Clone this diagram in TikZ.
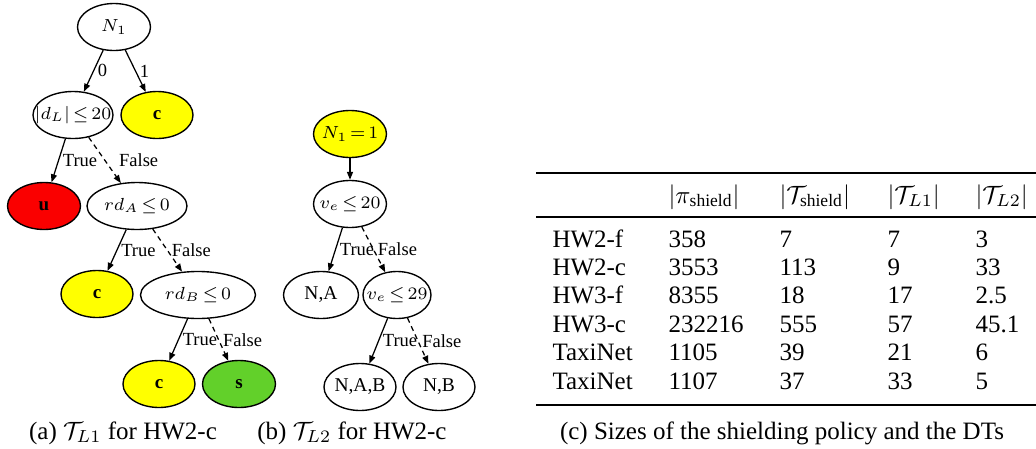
\documentclass[tikz,border=0pt]{standalone}
\usepackage{fontspec}
\setmainfont{Liberation Serif}
\usepackage{amsmath,amssymb}
\usepackage{xcolor}
\usepackage{tikz}
\usetikzlibrary{arrows.meta,shapes.geometric}

\definecolor{leafyellow}{RGB}{255,255,0}
\definecolor{leafred}{RGB}{250,0,0}
\definecolor{leafgreen}{RGB}{98,208,42}

% zero-width text so the ellipse keeps its given size
\newcommand{\nolap}[1]{\makebox[0pt]{#1}}
% tighter space around relations inside the trees
\newcommand{\tightrel}{\thickmuskip=2.5mu\relax}

\tikzset{
  dtnode/.style={draw, ellipse, inner sep=0pt, minimum height=18.8pt,
    line width=0.55pt, font=\fontsize{7.4}{9}\selectfont\tightrel},
  leaf/.style={dtnode, font=\fontsize{7.8}{9}\selectfont},
  colleaf/.style={dtnode, font=\fontsize{7.6}{9}\selectfont\bfseries},
  yes/.style={-{Triangle[length=3.2pt,width=2.4pt]}, line width=0.5pt},
  no/.style={yes, dash pattern=on 2pt off 1.6pt},
  edgelbl/.style={right, inner sep=1.5pt, font=\fontsize{7.4}{9}\selectfont},
  cell/.style={anchor=base west, inner sep=0pt},
  caption/.style={anchor=base, inner sep=0pt}
}

\begin{document}
\begin{tikzpicture}[x=0.4pt, y=-0.4pt]
  \useasboundingbox (0,0) rectangle (1036,448);

  % (a) tree for HW2-c
  \node[dtnode, minimum width=29.2pt] (n1) at (114,27) {\nolap{$N_1$}};
  \node[dtnode, minimum width=32pt] (dl) at (73,115) {\nolap{$|d_L|\le 20$}};
  \node[colleaf, fill=leafyellow, minimum width=28.8pt] (ca) at (157,115) {c};
  \node[colleaf, fill=leafred, minimum width=29.2pt] (ua) at (44,206) {u};
  \node[dtnode, minimum width=40pt] (rda) at (137,206) {\nolap{$rd_A\le 0$}};
  \node[colleaf, fill=leafyellow, minimum width=28.8pt] (cb) at (97,294) {c};
  \node[dtnode, minimum width=46pt] (rdb) at (198,295) {\nolap{$rd_B\le 0$}};
  \node[colleaf, fill=leafyellow, minimum width=28.8pt] (cc) at (159,384) {c};
  \node[colleaf, fill=leafgreen, minimum width=29.2pt] (sa) at (239,384) {s};

  \draw[yes] (n1) -- node[edgelbl] (l0) {0} (dl);
  \draw[yes] (n1) -- node[edgelbl] (l1) {1} (ca);
  \draw[yes] (dl) -- node[edgelbl] (lta) {True} (ua);
  \draw[no] (dl) -- node[edgelbl, xshift=4pt] (lfa) {False} (rda);
  \draw[yes] (rda) -- node[edgelbl] (ltb) {True} (cb);
  \draw[no] (rda) -- node[edgelbl] (lfb) {False} (rdb);
  \draw[yes] (rdb) -- node[edgelbl] (ltc) {True} (cc);
  \draw[no] (rdb) -- node[edgelbl] (lfc) {False} (sa);

  % (b) tree for HW2-c
  \node[dtnode, fill=leafyellow, minimum width=29.2pt] (root) at (350,134) {\nolap{$N_1=1$}};
  \node[dtnode, minimum width=29.2pt] (ve20) at (350,204) {\nolap{$v_e\le 20$}};
  \node[leaf, minimum width=30pt] (na) at (321,295) {N,A};
  \node[dtnode, minimum width=27.2pt] (ve29) at (397,295) {\nolap{$v_e\le 29$}};
  \node[leaf, minimum width=28.8pt] (nab) at (360,387) {N,A,B};
  \node[leaf, minimum width=28.8pt] (nb) at (439,387) {N,B};

  \draw[yes] (root) -- (ve20);
  \draw[yes] (ve20) -- node[edgelbl] (ltd) {True} (na);
  \draw[no] (ve20) -- node[edgelbl] (lfd) {False} (ve29);
  \draw[yes] (ve29) -- node[edgelbl] (lte) {True} (nab);
  \draw[no] (ve29) -- node[edgelbl] (lfe) {False} (nb);

  % (c) table rules
  \draw[line width=1pt] (536,173) -- (1036,173);
  \draw[line width=0.6pt] (536,217) -- (1036,217);
  \draw[line width=1pt] (536,405) -- (1036,405);
  % header
  \node[cell] (hpi) at (668,203) {$|\pi_{\text{shield}}|$};
  \node[cell] (hts) at (779,203) {$|\mathcal{T}_{\text{shield}}|$};
  \node[cell] (hl1) at (887,203) {$|\mathcal{T}_{L1}|$};
  \node[cell] (hl2) at (975,203) {$|\mathcal{T}_{L2}|$};
  % rows
  \foreach \bench/\pis/\tsh/\tla/\tlb [count=\r] in
    {HW2-f/358/7/7/3, HW2-c/3553/113/9/33, HW3-f/8355/18/17/2.5,
     HW3-c/232216/555/57/45.1, TaxiNet/1105/39/21/6, TaxiNet/1107/37/33/5} {
    \node[cell] (bench\r) at (552,{218.6+28.4*\r}) {\bench};
    \node[cell] (pi\r) at (668,{218.6+28.4*\r}) {\pis};
    \node[cell] (ts\r) at (779,{218.6+28.4*\r}) {\tsh};
    \node[cell] (la\r) at (887,{218.6+28.4*\r}) {\tla};
    \node[cell] (lb\r) at (975,{218.6+28.4*\r}) {\tlb};
  }

  % captions
  \node[caption] (capa) at (123,439) {(a) $\mathcal{T}_{L1}$ for HW2-c};
  \node[caption] (capb) at (352,439) {(b) $\mathcal{T}_{L2}$ for HW2-c};
  \node[caption] (capc) at (782,439) {(c) Sizes of the shielding policy and the DTs};
\end{tikzpicture}
\end{document}
